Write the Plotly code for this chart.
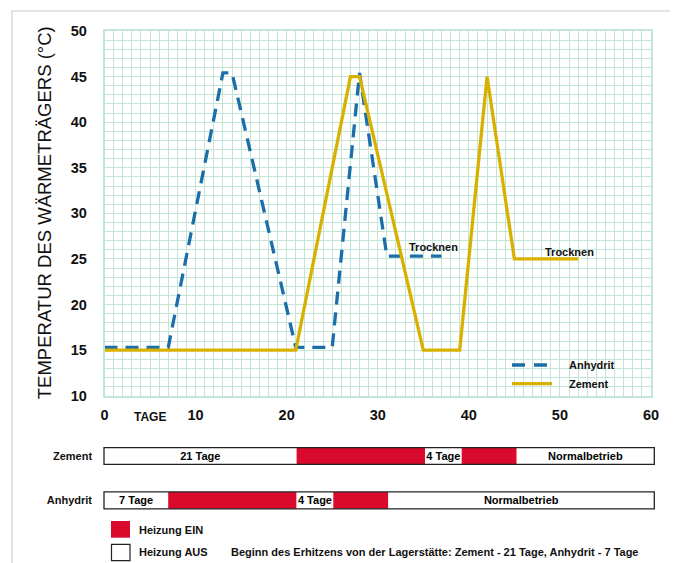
import plotly.graph_objects as go

# ---------------- data ----------------
anhydrit_days = [0, 7, 13, 14, 21, 25, 28, 31, 37]
anhydrit_temp = [15.3, 15.3, 45.4, 45.4, 15.3, 15.3, 45.4, 25.3, 25.3]

zement_days = [0, 21, 27, 28, 35, 39, 42, 45, 52]
zement_temp = [15, 15, 45, 45, 15, 15, 45, 25, 25]

trocknen_x = [36.1, 51.0]
trocknen_y = [26.3, 25.8]

x_ticks = [0, 10, 20, 30, 40, 50, 60]
y_ticks = [10, 15, 20, 25, 30, 35, 40, 45, 50]

rows = ["Zement", "Anhydrit"]
zement_start = [0, 21, 35, 39, 45]
zement_end = [21, 35, 39, 45, 60]
zement_on = [False, True, False, True, False]
zement_labels = ["21 Tage", "", "4 Tage", "", "Normalbetrieb"]

anhydrit_start = [0, 7, 21, 25, 31]
anhydrit_end = [7, 21, 25, 31, 60]
anhydrit_on = [False, True, False, True, False]
anhydrit_labels = ["7 Tage", "", "4 Tage", "", "Normalbetrieb"]

# ---------------- styling ----------------
OFF = 8  # page body margin
W, H = 670, 555
ML, MR, MT, MB = 92, 18, 23, 0
PW, PH = W - ML - MR, H - MT - MB


def px_x(p):
    """screen pixel x -> paper fraction"""
    return (p - OFF - ML) / PW


def px_y(p):
    """screen pixel y -> paper fraction"""
    return (H - MB - (p - OFF)) / PH


FONT = "Liberation Sans, Arial, sans-serif"
GRID = "#c3e5d8"
BLUE = "#1b6ea8"
GOLD = "#d8b100"
RED = "#d90a2c"

row_pos = {"Zement": 0.6704, "Anhydrit": 0.3925}
bar_w = 0.106

fig = go.Figure()

fig.add_trace(go.Scatter(
    x=anhydrit_days, y=anhydrit_temp, mode="lines", name="Anhydrit",
    line=dict(color=BLUE, width=3.3, dash="13px,8px"),
    showlegend=False, xaxis="x", yaxis="y"))
fig.add_trace(go.Scatter(
    x=zement_days, y=zement_temp, mode="lines", name="Zement",
    line=dict(color=GOLD, width=3.3),
    showlegend=False, xaxis="x", yaxis="y"))

# schedule bars
for name, starts, ends, on, labels in [
    ("Zement", zement_start, zement_end, zement_on, zement_labels),
    ("Anhydrit", anhydrit_start, anhydrit_end, anhydrit_on, anhydrit_labels),
]:
    for s, e, o, lab in zip(starts, ends, on, labels):
        fig.add_trace(go.Bar(
            orientation="h", y=[row_pos[name]], x=[e - s], base=[s],
            width=bar_w, marker=dict(color=RED if o else "white", line=dict(width=0)),
            text=[lab], textposition="inside", insidetextanchor="middle",
            textangle=0, constraintext="none",
            textfont=dict(family=FONT, size=11, color="black", weight="bold"),
            showlegend=False, hoverinfo="skip", xaxis="x2", yaxis="y2"))
    fig.add_trace(go.Bar(
        orientation="h", y=[row_pos[name]], x=[ends[-1] - starts[0]], base=[starts[0]],
        width=bar_w, marker=dict(color="rgba(0,0,0,0)", line=dict(width=1.3, color="#222")),
        showlegend=False, hoverinfo="skip", xaxis="x2", yaxis="y2"))

fig.update_layout(
    width=W, height=H,
    margin=dict(l=ML, r=MR, t=MT, b=MB, autoexpand=False),
    paper_bgcolor="white", plot_bgcolor="white",
    barmode="overlay",
    font=dict(family=FONT, color="#111"),
    showlegend=False,
    xaxis=dict(domain=[px_x(104.5), px_x(651)], range=[0, 60],
               tickvals=x_ticks, showgrid=True, gridcolor=GRID, gridwidth=1.3,
               minor=dict(dtick=1, showgrid=True, gridcolor=GRID, gridwidth=1.3, ticks=""),
               showline=True, linecolor=GRID, linewidth=1.5, mirror=True,
               zeroline=False, ticks="outside", ticklen=5, tickcolor="rgba(0,0,0,0)",
               tickfont=dict(family=FONT, size=14.5, color="#111", weight="bold"),
               anchor="y", fixedrange=True, automargin=False),
    yaxis=dict(domain=[px_y(395.7), min(1, px_y(30.7))], range=[10, 50],
               tickvals=y_ticks, showgrid=True, gridcolor=GRID, gridwidth=1.3,
               minor=dict(dtick=1, showgrid=True, gridcolor=GRID, gridwidth=1.3, ticks=""),
               showline=True, linecolor=GRID, linewidth=1.5, mirror=True,
               zeroline=False, ticks="outside", ticklen=13, tickcolor="rgba(0,0,0,0)",
               tickfont=dict(family=FONT, size=14.5, color="#111", weight="bold"),
               anchor="x", fixedrange=True, automargin=False),
    xaxis2=dict(domain=[px_x(101.25), px_x(657.05)], range=[-0.3, 60.3],
                visible=False, anchor="y2", fixedrange=True, automargin=False),
    yaxis2=dict(domain=[0, 0.3], range=[0, 1], anchor="x2",
                tickvals=[row_pos[r] for r in rows], ticktext=rows,
                showgrid=False, zeroline=False, showline=False,
                ticks="outside", ticklen=6, tickcolor="rgba(0,0,0,0)",
                tickfont=dict(family=FONT, size=11, color="#111", weight="bold"),
                fixedrange=True, automargin=False),
)

annotations = [
    dict(text="TEMPERATUR DES WÄRMETRÄGERS (°C)", textangle=-90,
         x=px_x(44), y=(px_y(395.7) + px_y(30.7)) / 2, xref="paper", yref="paper",
         xanchor="center", yanchor="middle", showarrow=False,
         font=dict(family=FONT, size=18.5, color="#111")),
    dict(text="TAGE", x=5, y=px_y(416.7), xref="x", yref="paper",
         xanchor="center", yanchor="middle", showarrow=False,
         font=dict(family=FONT, size=12, color="#111", weight="bold")),
    dict(text="Heizung EIN", x=px_x(136.7), y=px_y(530), xref="paper", yref="paper",
         xanchor="left", yanchor="middle", showarrow=False,
         font=dict(family=FONT, size=11, color="#111", weight="bold")),
    dict(text="Heizung AUS", x=px_x(136.7), y=px_y(552.3), xref="paper", yref="paper",
         xanchor="left", yanchor="middle", showarrow=False,
         font=dict(family=FONT, size=11, color="#111", weight="bold")),
    dict(text="Beginn des Erhitzens von der Lagerstätte: Zement - 21 Tage, Anhydrit - 7 Tage",
         x=px_x(229), y=px_y(552.3), xref="paper", yref="paper",
         xanchor="left", yanchor="middle", showarrow=False,
         font=dict(family=FONT, size=11, color="#111", weight="bold")),
    dict(text="Anhydrit", x=px_x(567), y=px_y(365), xref="paper", yref="paper",
         xanchor="left", yanchor="middle", showarrow=False,
         font=dict(family=FONT, size=11, color="#111", weight="bold")),
    dict(text="Zement", x=px_x(567), y=px_y(383.7), xref="paper", yref="paper",
         xanchor="left", yanchor="middle", showarrow=False,
         font=dict(family=FONT, size=11, color="#111", weight="bold")),
]
for tx, ty in zip(trocknen_x, trocknen_y):
    annotations.append(dict(text="Trocknen", x=tx, y=ty, xref="x", yref="y",
                            xanchor="center", yanchor="middle", showarrow=False,
                            font=dict(family=FONT, size=11, color="#111", weight="bold")))
fig.update_layout(annotations=annotations)

shapes = [
    dict(type="rect", xref="paper", yref="paper",
         x0=px_x(12), x1=px_x(674.3), y0=px_y(580), y1=px_y(11),
         line=dict(color="#dcdcdc", width=1.5), fillcolor="rgba(0,0,0,0)", layer="below"),
    dict(type="rect", xref="paper", yref="paper",
         x0=px_x(111), x1=px_x(130), y0=px_y(537.7), y1=px_y(521),
         line=dict(width=0), fillcolor=RED),
    dict(type="rect", xref="paper", yref="paper",
         x0=px_x(111.5), x1=px_x(130), y0=px_y(560.7), y1=px_y(544.3),
         line=dict(width=1.2, color="#222"), fillcolor="white"),
    dict(type="line", xref="paper", yref="paper",
         x0=px_x(512), x1=px_x(553), y0=px_y(365), y1=px_y(365),
         line=dict(color=BLUE, width=3.3, dash="13px,9px")),
    dict(type="line", xref="paper", yref="paper",
         x0=px_x(512), x1=px_x(552), y0=px_y(383.7), y1=px_y(383.7),
         line=dict(color=GOLD, width=3.3)),
]
fig.update_layout(shapes=shapes)

fig.write_html("out.html")
